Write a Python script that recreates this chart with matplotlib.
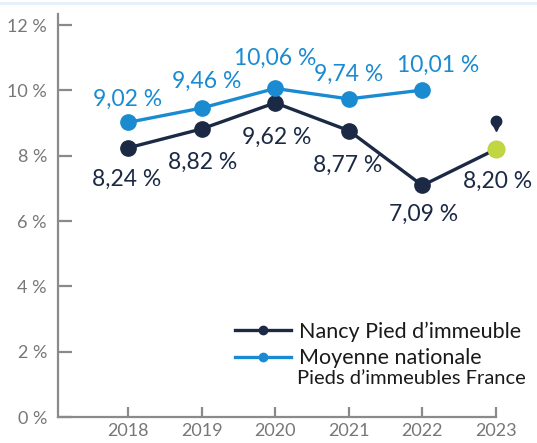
import matplotlib.pyplot as plt
from matplotlib.lines import Line2D

years = [2018, 2019, 2020, 2021, 2022, 2023]
nancy = [8.24, 8.82, 9.62, 8.77, 7.09, 8.20]
national_years = [2018, 2019, 2020, 2021, 2022]
national = [9.02, 9.46, 10.06, 9.74, 10.01]
yticks = [0, 2, 4, 6, 8, 10, 12]

NAVY = "#1b2945"
BLUE = "#1a8bd1"
GREEN = "#c2d543"
GREY = "#8a8a8a"

plt.rcParams["font.family"] = ["Lato", "DejaVu Sans"]

fig = plt.figure(figsize=(5.37, 4.43), dpi=100)
# faint separator line along the top edge
fig.add_artist(Line2D([0, 1], [1 - 3 / 443, 1 - 3 / 443], color="#e4f1fa", lw=2))
ax = fig.add_axes([58 / 537, 26 / 443, (496 - 58) / 537, (417 - 14) / 443])

ax.plot(years, nancy, color=NAVY, lw=2.4, marker="o", ms=11, clip_on=False, zorder=3)
ax.plot(years[-1], nancy[-1], "o", color=GREEN, ms=12, clip_on=False, zorder=4)
ax.plot(national_years, national, color=BLUE, lw=2.4, marker="o", ms=11, clip_on=False, zorder=3)

# pin above the last point
ax.plot(years[-1], nancy[-1] + 0.86, "o", color=NAVY, ms=7.5, clip_on=False, zorder=4)
ax.plot(years[-1], nancy[-1] + 0.72, "v", color=NAVY, ms=6.5, clip_on=False, zorder=4)

def fmt(v):
    return f"{v:.2f}".replace(".", ",") + " %"

# label offsets in points
blue_offsets = [(0, 16.5), (4, 19.5), (0, 22), (0, 18), (11, 18)]
for x, v, off in zip(national_years, national, blue_offsets):
    ax.annotate(fmt(v), (x, v), xytext=off, textcoords="offset points",
                ha="center", va="center", color=BLUE, fontsize=16.5)

navy_offsets = [(-1, -22.5), (1, -24), (1, -25), (-1, -25), (1, -20.5), (1, -23)]
for x, v, off in zip(years, nancy, navy_offsets):
    ax.annotate(fmt(v), (x, v), xytext=off, textcoords="offset points",
                ha="center", va="center", color=NAVY, fontsize=16.5,
                annotation_clip=False)

ax.set_xlim(2017.05, 2023)
ax.set_ylim(0, 12.34)
ax.set_xticks(years)
ax.set_yticks(yticks)
ax.set_yticklabels([f"{t} %" for t in yticks])

for s in ["top", "right"]:
    ax.spines[s].set_visible(False)
for s in ["left", "bottom"]:
    ax.spines[s].set_color(GREY)
    ax.spines[s].set_linewidth(1.6)
ax.tick_params(axis="y", direction="in", length=10, width=1.6, color=GREY,
               labelcolor="#777777", labelsize=13, pad=8)
ax.tick_params(axis="x", direction="in", length=7, width=1.6, color=GREY,
               labelcolor="#777777", labelsize=13, pad=4)

handles = [
    Line2D([], [], color=NAVY, lw=2.4, marker="o", ms=6),
    Line2D([], [], color=BLUE, lw=2.4, marker="o", ms=6),
]
fig.legend(handles, ["Nancy Pied d’immeuble", "Moyenne nationale"],
           loc="upper left", bbox_to_anchor=(226 / 537, 1 - 313 / 443),
           frameon=False, fontsize=15.5, handlelength=2.6, handletextpad=0.4,
           labelspacing=0.3, borderaxespad=0, labelcolor="#1a1a1a")
fig.text(297 / 537, 1 - 378 / 443, "Pieds d’immeubles France", fontsize=14.5,
         color="#1a1a1a", va="center", ha="left")

fig.savefig("out.png", dpi=100)
